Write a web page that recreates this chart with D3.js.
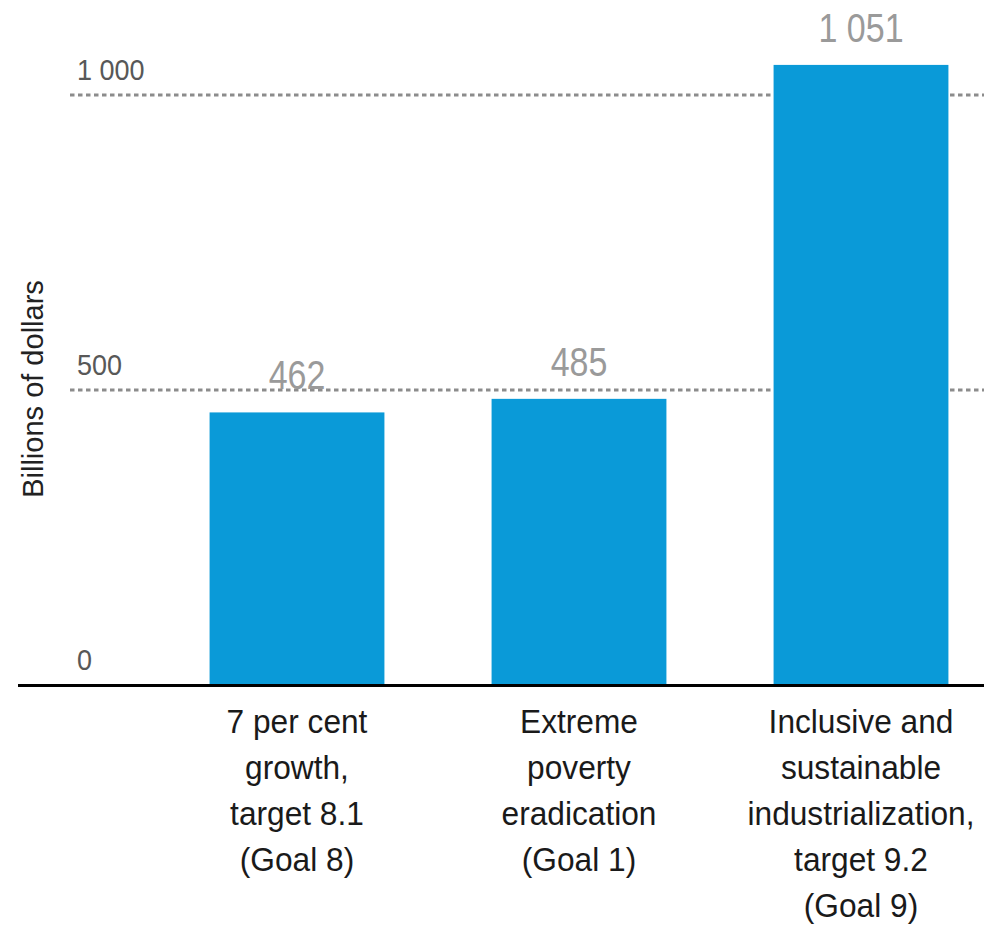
<!DOCTYPE html>
<html>
<head>
<meta charset="utf-8">
<script src="https://cdn.jsdelivr.net/npm/d3@7"></script>
<style>
  html, body { margin: 0; padding: 0; background: #fff; }
  svg { display: block; }
  text { font-family: "Liberation Sans", Arial, "DejaVu Sans", sans-serif; }
</style>
</head>
<body>
<svg id="chart" width="984" height="927"></svg>
<script>
// Financing needs by goal, billions of dollars
const categories = [
  ["7 per cent", "growth,", "target 8.1", "(Goal 8)"],
  ["Extreme", "poverty", "eradication", "(Goal 1)"],
  ["Inclusive and", "sustainable", "industrialization,", "target 9.2", "(Goal 9)"]
];
const values = [462, 485, 1051];
const valueLabels = ["462", "485", "1 051"];
const tickValues = [0, 500, 1000];
const tickLabels = ["0", "500", "1 000"];
const axisTitle = "Billions of dollars";

const svg = d3.select("#chart");
const W = 984;

const x = d3.scaleBand()
  .domain(d3.range(categories.length))
  .range([156, 1002])
  .paddingInner(0.38)
  .paddingOuter(0.19);

const y = d3.scaleLinear()
  .domain([0, 1000])
  .range([685, 95]);

// Dotted gridlines (behind the bars)
svg.append("g").selectAll("line")
  .data(tickValues.filter(d => d > 0))
  .join("line")
  .attr("x1", 70).attr("x2", W)
  .attr("y1", d => y(d)).attr("y2", d => y(d))
  .attr("stroke", "#8c8c8c")
  .attr("stroke-width", 3)
  .attr("stroke-dasharray", "4.5,3.5");

// Tick labels, sitting above each gridline (slightly condensed)
svg.append("g").selectAll("text")
  .data(tickValues)
  .join("text")
  .attr("transform", d => `translate(77,${y(d) - 15}) scale(0.9,1)`)
  .attr("fill", "#585858")
  .attr("font-size", 30)
  .text((d, i) => tickLabels[i]);

// Bars
svg.append("g").selectAll("rect")
  .data(values)
  .join("rect")
  .attr("x", (d, i) => x(i))
  .attr("width", x.bandwidth())
  .attr("y", d => y(d))
  .attr("height", d => y(0) - y(d))
  .attr("fill", "#0a9ad8");

// Value labels above the bars
svg.append("g").selectAll("text")
  .data(values)
  .join("text")
  .attr("transform", (d, i) =>
    `translate(${x(i) + x.bandwidth() / 2},${y(d) - 23}) scale(0.83,1)`)
  .attr("text-anchor", "middle")
  .attr("fill", "#9a9a9a")
  .attr("font-size", 41)
  .text((d, i) => valueLabels[i]);

// Baseline
svg.append("line")
  .attr("x1", 18).attr("x2", W)
  .attr("y1", y(0) + 0.5).attr("y2", y(0) + 0.5)
  .attr("stroke", "#000")
  .attr("stroke-width", 3);

// Category labels, one tspan per line
const cat = svg.append("g").selectAll("text")
  .data(categories)
  .join("text")
  .attr("transform", (d, i) => `translate(${x(i) + x.bandwidth() / 2},733) scale(0.96,1)`)
  .attr("text-anchor", "middle")
  .attr("fill", "#1a1a1a")
  .attr("font-size", 33);
cat.selectAll("tspan")
  .data(lines => lines)
  .join("tspan")
  .attr("x", 0)
  .attr("y", (d, j) => j * 46)
  .text(d => d);

// Axis title
svg.append("text")
  .attr("transform", "translate(43,389) rotate(-90)")
  .attr("text-anchor", "middle")
  .attr("fill", "#222")
  .attr("font-size", 29)
  .text(axisTitle);
</script>
</body>
</html>
